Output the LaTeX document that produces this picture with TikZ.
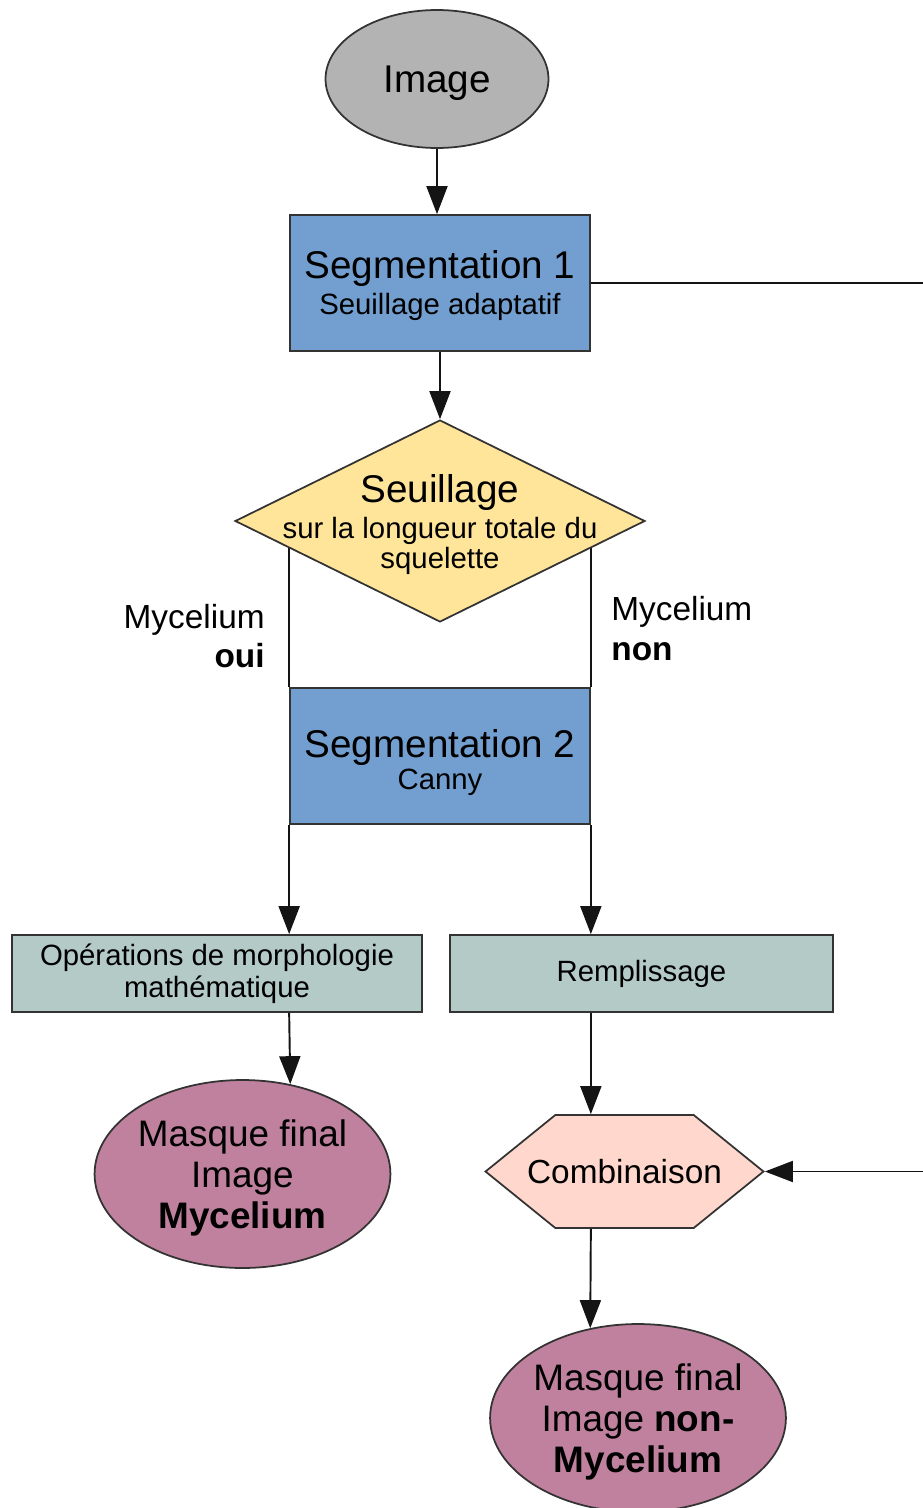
\documentclass[tikz,border=0pt]{standalone}
\usepackage{fontspec}
\setmainfont{Liberation Sans}
\usepackage{tikz}
\usetikzlibrary{shapes.geometric, shapes.symbols, arrows.meta, positioning, backgrounds, calc}
\definecolor{startcolor}{RGB}{179,179,179}
\definecolor{segcolor}{RGB}{114,159,207}
\definecolor{decisioncolor}{RGB}{255,229,153}
\definecolor{opcolor}{RGB}{179,202,199}
\definecolor{combcolor}{RGB}{255,215,204}
\definecolor{maskcolor}{RGB}{191,129,158}
\definecolor{edgecolor}{RGB}{51,51,51}
\definecolor{flowcolor}{RGB}{20,20,20}

\newcommand{\fbig}{\fontsize{22}{26}\selectfont}
\newcommand{\fmask}{\fontsize{21}{23.5}\selectfont}
\newcommand{\fmid}{\fontsize{19}{22.7}\selectfont}
\newcommand{\fsmall}{\fontsize{16.7}{18.5}\selectfont}
\newcommand{\fdiam}{\fontsize{16.7}{17}\selectfont}

\begin{document}
\begin{tikzpicture}[
    x=0.02cm, y=-0.02cm,
    start/.style={ellipse, draw=edgecolor, line width=1pt, fill=startcolor, minimum width=4.46cm, minimum height=2.76cm, text depth=0pt, font=\fbig},
    segbox/.style={rectangle, draw=edgecolor, line width=1pt, fill=segcolor, minimum width=6cm, minimum height=2.72cm, align=center, inner sep=0pt, font=\fsmall},
    decision/.style={diamond, draw=edgecolor, line width=1pt, fill=decisioncolor, minimum width=8.2cm, minimum height=4.04cm, inner sep=0pt},
    decisiontext/.style={font=\fdiam, align=center, inner sep=0pt, yshift=-2pt},
    opbox/.style={rectangle, draw=edgecolor, line width=1pt, fill=opcolor, minimum height=1.54cm, align=center, inner sep=0pt, font=\fsmall},
    combine/.style={signal, signal to=west and east, signal pointer angle=78, draw=edgecolor, line width=1pt, fill=combcolor, minimum width=5.56cm, minimum height=2.26cm, inner sep=0pt, font=\fmid},
    mask/.style={ellipse, draw=edgecolor, line width=1pt, fill=maskcolor, minimum width=5.86cm, minimum height=3.76cm, inner sep=0pt, align=center, text depth=0pt, font=\fmask},
    branch/.style={font=\fmid, inner sep=0pt},
    flow/.style={-{Triangle[length=5.6mm, width=4.2mm]}, line width=1.1pt, flowcolor},
    link/.style={line width=1.1pt, flowcolor}
]
    \useasboundingbox (0,0) rectangle (923,1508);

    % Entree
    \node[start] (image) at (437,79) {Image};

    % Segmentations
    \node[segbox] (seg1) at (440,283) {\rule{0pt}{19pt}{\fbig Segmentation 1}\\[2.3pt]Seuillage adaptatif};
    \node[decision, label={[decisiontext]center:{{\fbig Seuillage}\\[3.2pt]sur la longueur totale du\\squelette}}] (diam) at (440,521) {};
    \node[segbox] (seg2) at (440,756) {\rule{0pt}{23.4pt}{\fbig Segmentation 2}\\Canny};

    % Branches
    \node[branch, anchor=east, align=right] (lbloui) at (265,636) {Mycelium\\\textbf{oui}};
    \node[branch, anchor=west, align=left] (lblnon) at (611,629) {Mycelium\\\textbf{non}};

    % Operations
    \node[opbox, minimum width=8.2cm] (morph) at (217,973.5) {Opérations de morphologie\\mathématique};
    \node[opbox, minimum width=7.66cm] (rempl) at (641.5,973.5) {Remplissage};
    \node[combine] (combi) at (624.5,1171.5) {\makebox[0pt]{Combinaison}};

    % Masques
    \node[mask] (masqueoui) at (242.5,1174) {Masque final\\Image\\\textbf{Mycelium}};
    \node[mask] (masquenon) at (638,1418) {Masque final\\Image \textbf{non-}\\\textbf{Mycelium}};

    % Flows
    \draw[flow] (image.south) -- (image.south |- seg1.north);
    \draw[flow] (seg1) -- (diam);
    \begin{scope}[on background layer]
        \draw[link] (seg2.north west |- diam.center) -- (seg2.north west);
        \draw[link] (seg2.north east |- diam.center) -- (seg2.north east);
    \end{scope}
    \draw[flow] (seg2.south west) -- (seg2.south west |- morph.north);
    \draw[flow] (seg2.south east) -- (seg2.south east |- rempl.north);
    \draw[flow] (morph.south -| seg2.west) -- (masqueoui.62);
    \draw[flow] (rempl.south -| seg2.east) -- (seg2.east |- combi.north);
    \draw[flow] (combi.south -| seg2.east) -- (masquenon.118);

    % Detour vers la combinaison
    \coordinate (detour) at (960,0);
    \draw[flow] (seg1.east) -- (seg1.east -| detour) |- (combi.east);

\end{tikzpicture}
\end{document}
